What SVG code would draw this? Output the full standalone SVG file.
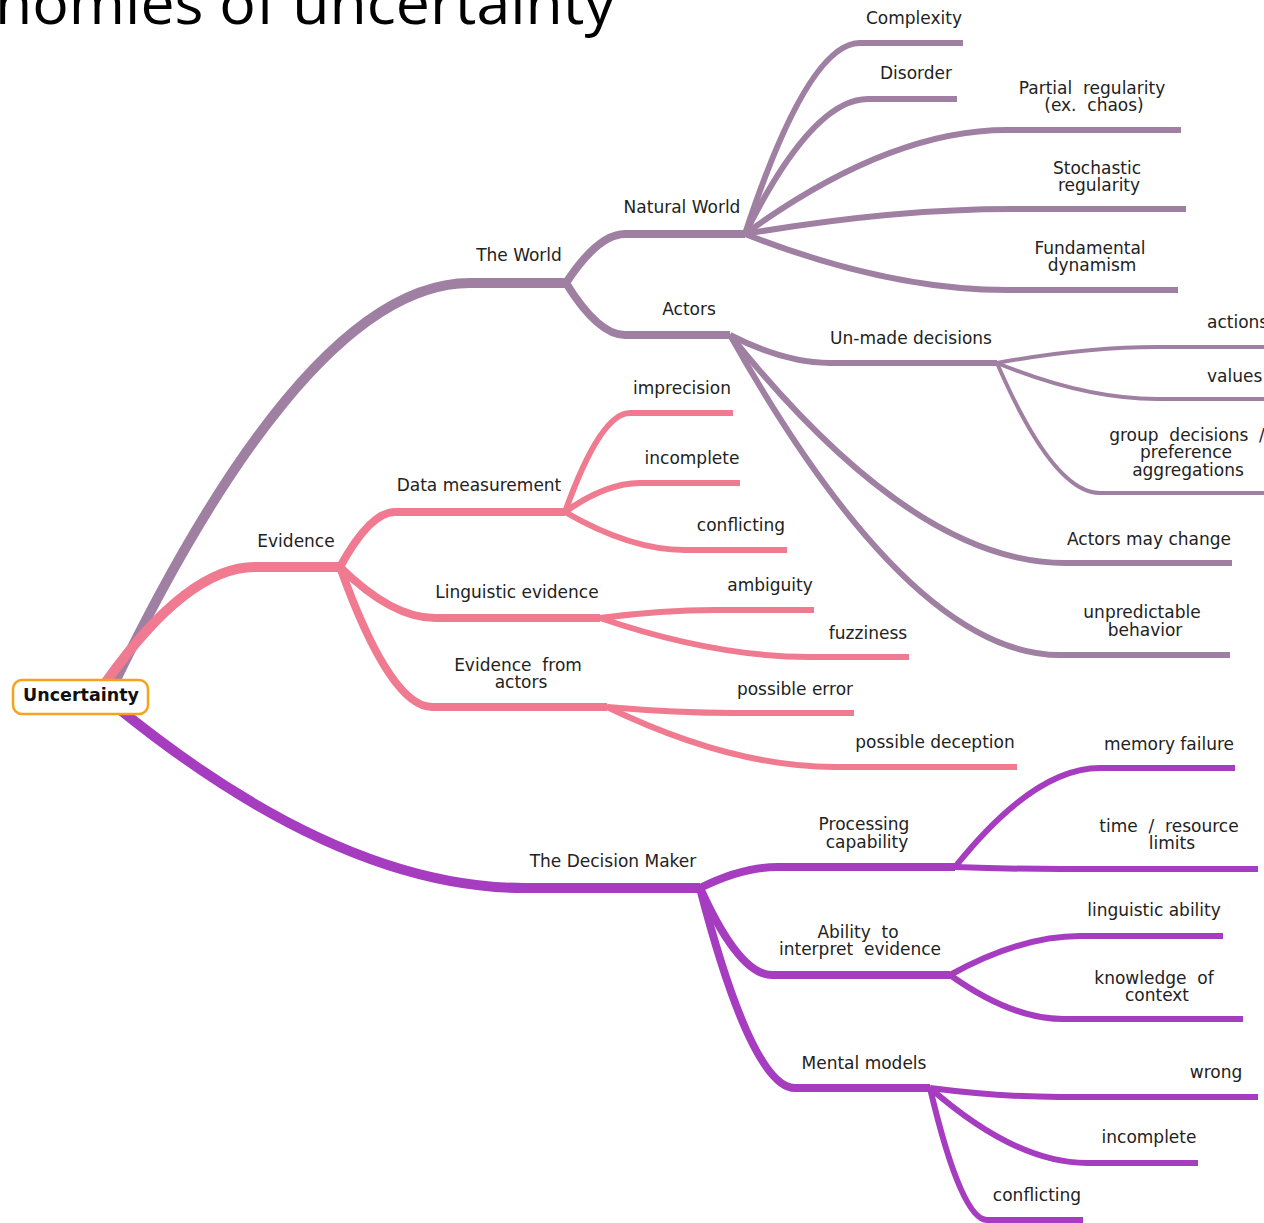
<svg xmlns="http://www.w3.org/2000/svg" width="1264" height="1223" viewBox="0 0 1264 1223" xml:space="preserve">
<style>
.e{fill:none;stroke-linecap:butt;stroke-linejoin:round}
.w{stroke:#9f80a3}
.p{stroke:#f07a90}
.d{stroke:#a63cc0}
.l1{stroke-width:10}
.l2{stroke-width:8}
.l3{stroke-width:6}
.l4{stroke-width:4}
text{font-family:"DejaVu Sans","Verdana",sans-serif;font-size:17px;fill:#222;text-anchor:middle;white-space:pre}
.st{text-anchor:start}
.title{font-family:"Open Sans","DejaVu Sans",sans-serif;font-size:58px;fill:#000;text-anchor:start}
.root{font-weight:bold;font-size:17.5px;fill:#111}
</style>
<rect width="1264" height="1223" fill="#fff"/>
<g id="title"><text class="title" x="-5" y="24" textLength="620" lengthAdjust="spacingAndGlyphs">nomies of uncertainty</text></g>
<g id="connectors">
<path class="e w l1" d="M112 688C219.4 465.25 344.7 283 470 283H566"/>
<path class="e p l1" d="M106 682C150.7 618.75 202.85 567 255 567H340"/>
<path class="e d l1" d="M118 708C240.1 807 382.55 888 525 888H700"/>
<path class="e w l2" d="M566 283C583.7 256 604.35 234 625 234H745"/>
<path class="e w l2" d="M566 283C583.7 311.6 604.35 335 625 335H730"/>
<path class="e w l3" d="M745 234C779.5 128.95 819.75 43 860 43H963"/>
<path class="e w l3" d="M745 234C781.9 159.75 824.95 99 868 99H957"/>
<path class="e w l3" d="M745 234C823.6 176.8 915.3 130 1007 130H1181"/>
<path class="e w l3" d="M745 234C825.1 220.25 918.55 209 1012 209H1186"/>
<path class="e w l3" d="M745 234C823.6 264.8 915.3 290 1007 290H1178"/>
<path class="e w l3" d="M730 335C760 350.4 795 363 830 363H997"/>
<path class="e w l3" d="M730 335C830.5 460.4 947.75 563 1065 563H1232"/>
<path class="e w l3" d="M730 335C829 511 944.5 655 1060 655H1230"/>
<path class="e w l4" d="M997 363C1045 354.2 1101 347 1157 347H1270"/>
<path class="e w l4" d="M997 363C1045 382.8 1101 399 1157 399H1270"/>
<path class="e w l4" d="M997 363C1027.9 434.5 1063.95 493 1100 493H1270"/>
<path class="e p l2" d="M340 567C356.5 536.75 375.75 512 395 512H565"/>
<path class="e p l2" d="M340 567C368.5 595 401.75 618 435 618H600"/>
<path class="e p l2" d="M340 567C367.6 644 399.8 707 432 707H607"/>
<path class="e p l3" d="M565 512C584.5 457.55 607.25 413 630 413H733"/>
<path class="e p l3" d="M565 512C587.5 496 613.75 483 640 483H740"/>
<path class="e p l3" d="M565 512C601 532.9 643 550 685 550H787"/>
<path class="e p l3" d="M600 618C634.5 613.6 674.75 610 715 610H814"/>
<path class="e p l3" d="M600 618C663 639.45 736.5 657 810 657H909"/>
<path class="e p l3" d="M607 707C645.4 710.3 690.2 713 735 713H854"/>
<path class="e p l3" d="M607 707C675.4 740 755.2 767 835 767H1017"/>
<path class="e d l2" d="M700 888C723.1 876.45 750.05 867 777 867H955"/>
<path class="e d l2" d="M700 888C721.6 935.85 746.8 975 772 975H950"/>
<path class="e d l2" d="M700 888C728.5 998 761.75 1088 795 1088H930"/>
<path class="e d l3" d="M955 867C998.5 812.55 1049.25 768 1100 768H1235"/>
<path class="e d l3" d="M955 867C986.5 868.1 1023.25 869 1060 869H1258"/>
<path class="e d l3" d="M950 975C989 953.55 1034.5 936 1080 936H1223"/>
<path class="e d l3" d="M950 975C983.9 999.2 1023.45 1019 1063 1019H1243"/>
<path class="e d l3" d="M930 1088C969 1093 1014.5 1097 1060 1097H1258"/>
<path class="e d l3" d="M930 1088C977.1 1129.25 1032 1163 1087 1163H1198"/>
<path class="e d l3" d="M930 1088C947.1 1160.6 967 1220 987 1220H1083"/>
</g>
<g id="n-root"><rect x="13" y="680" width="135" height="34" rx="9" fill="#fff" stroke="#f7a21b" stroke-width="2.5"/><text class="root" x="81" y="701">Uncertainty</text></g>
<g id="n-world"><text x="519" y="261">The World</text></g>
<g id="n-natural"><text x="682" y="213">Natural World</text></g>
<g id="n-actors"><text x="689" y="315">Actors</text></g>
<g id="n-complexity"><text x="914" y="24">Complexity</text></g>
<g id="n-disorder"><text x="916" y="79">Disorder</text></g>
<g id="n-partial"><text x="1092" y="94">Partial  regularity</text><text x="1094" y="111">(ex.  chaos)</text></g>
<g id="n-stochastic"><text x="1097" y="174">Stochastic</text><text x="1099" y="191">regularity</text></g>
<g id="n-fundamental"><text x="1090" y="254">Fundamental</text><text x="1092" y="271">dynamism</text></g>
<g id="n-unmade"><text x="911" y="344">Un-made decisions</text></g>
<g id="n-actions"><text class="st" x="1207" y="328">actions</text></g>
<g id="n-values"><text class="st" x="1207" y="382">values</text></g>
<g id="n-group"><text x="1187" y="441">group  decisions  /</text><text x="1186" y="458">preference</text><text x="1188" y="476">aggregations</text></g>
<g id="n-actorschange"><text x="1149" y="545">Actors may change</text></g>
<g id="n-unpredictable"><text x="1142" y="618">unpredictable</text><text x="1145" y="636">behavior</text></g>
<g id="n-evidence"><text x="296" y="547">Evidence</text></g>
<g id="n-data"><text x="479" y="491">Data measurement</text></g>
<g id="n-linguistic"><text x="517" y="598">Linguistic evidence</text></g>
<g id="n-evactors"><text x="518" y="671">Evidence  from</text><text x="521" y="688">actors</text></g>
<g id="n-imprecision"><text x="682" y="394">imprecision</text></g>
<g id="n-incomplete1"><text x="692" y="464">incomplete</text></g>
<g id="n-conflicting1"><text x="741" y="531">conflicting</text></g>
<g id="n-ambiguity"><text x="770" y="591">ambiguity</text></g>
<g id="n-fuzziness"><text x="868" y="639">fuzziness</text></g>
<g id="n-error"><text x="795" y="695">possible error</text></g>
<g id="n-deception"><text x="935" y="748">possible deception</text></g>
<g id="n-dm"><text x="613" y="867">The Decision Maker</text></g>
<g id="n-processing"><text x="864" y="830">Processing</text><text x="867" y="848">capability</text></g>
<g id="n-ability"><text x="858" y="938">Ability  to</text><text x="860" y="955">interpret  evidence</text></g>
<g id="n-mental"><text x="864" y="1069">Mental models</text></g>
<g id="n-memory"><text x="1169" y="750">memory failure</text></g>
<g id="n-time"><text x="1169" y="832">time  /  resource</text><text x="1172" y="849">limits</text></g>
<g id="n-lingability"><text x="1154" y="916">linguistic ability</text></g>
<g id="n-knowledge"><text x="1154" y="984">knowledge  of</text><text x="1157" y="1001">context</text></g>
<g id="n-wrong"><text x="1216" y="1078">wrong</text></g>
<g id="n-incomplete2"><text x="1149" y="1143">incomplete</text></g>
<g id="n-conflicting2"><text x="1037" y="1201">conflicting</text></g>
</svg>
